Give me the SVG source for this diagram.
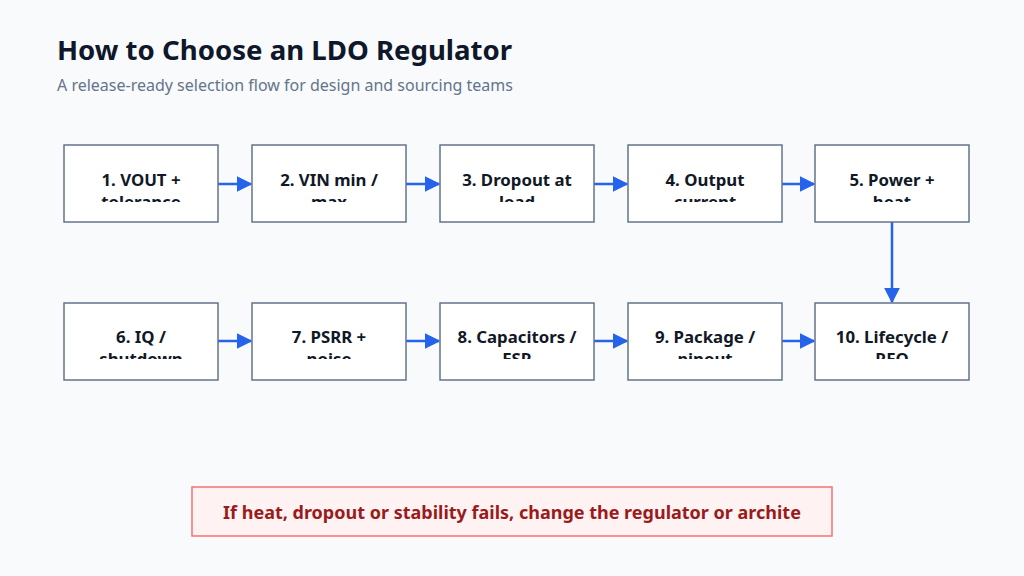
<svg xmlns="http://www.w3.org/2000/svg" width="1024" height="576" viewBox="0 0 1024 576">
<style>
.title{font-family:"Noto Sans","Open Sans",sans-serif;font-weight:700;font-size:27.6px;fill:#0f172a}
.sub{font-family:"Noto Sans","Open Sans",sans-serif;font-size:16px;fill:#64748b}
.box{fill:#ffffff;stroke:#64748b;stroke-width:1.5}
.lbl{font-family:"Noto Sans","Open Sans",sans-serif;font-weight:700;font-size:16.8px;fill:#111827;text-anchor:middle}
.edge{stroke:#2563eb;stroke-width:2.5;fill:none}
.note{fill:#fef2f2;stroke:#f87171;stroke-width:1.5}
.notet{font-family:"Noto Sans","Open Sans",sans-serif;font-weight:700;font-size:18px;fill:#991b1b;text-anchor:middle}
</style>
<defs>
<marker id="ah" viewBox="0 0 10 10" refX="9" refY="5" markerWidth="6.4" markerHeight="6.4" markerUnits="strokeWidth" orient="auto">
<path d="M0,0 L10,5 L0,10 z" fill="#2563eb"/>
</marker>
<clipPath id="c1"><rect x="60" y="140" width="920" height="62"/></clipPath>
<clipPath id="c2"><rect x="60" y="298" width="920" height="61"/></clipPath>
</defs>
<rect width="1024" height="576" fill="#f8fafc"/>
<text class="title" x="57" y="60">How to Choose an LDO Regulator</text>
<text class="sub" x="57" y="91">A release-ready selection flow for design and sourcing teams</text>
<g id="connectors">
<line class="edge" x1="218" y1="184" x2="251" y2="184" marker-end="url(#ah)"/>
<line class="edge" x1="406" y1="184" x2="439" y2="184" marker-end="url(#ah)"/>
<line class="edge" x1="594" y1="184" x2="627" y2="184" marker-end="url(#ah)"/>
<line class="edge" x1="782" y1="184" x2="814" y2="184" marker-end="url(#ah)"/>
<line class="edge" x1="892" y1="222" x2="892" y2="302" marker-end="url(#ah)"/>
<line class="edge" x1="218" y1="341" x2="251" y2="341" marker-end="url(#ah)"/>
<line class="edge" x1="406" y1="341" x2="439" y2="341" marker-end="url(#ah)"/>
<line class="edge" x1="594" y1="341" x2="627" y2="341" marker-end="url(#ah)"/>
<line class="edge" x1="782" y1="341" x2="814" y2="341" marker-end="url(#ah)"/>
</g>
<g id="n1"><rect class="box" x="64" y="145" width="154" height="77"/><g clip-path="url(#c1)"><text class="lbl" x="141" y="186">1. VOUT +</text><text class="lbl" x="141" y="208">tolerance</text></g></g>
<g id="n2"><rect class="box" x="252" y="145" width="154" height="77"/><g clip-path="url(#c1)"><text class="lbl" x="329" y="186">2. VIN min /</text><text class="lbl" x="329" y="208">max</text></g></g>
<g id="n3"><rect class="box" x="440" y="145" width="154" height="77"/><g clip-path="url(#c1)"><text class="lbl" x="517" y="186">3. Dropout at</text><text class="lbl" x="517" y="208">load</text></g></g>
<g id="n4"><rect class="box" x="628" y="145" width="154" height="77"/><g clip-path="url(#c1)"><text class="lbl" x="705" y="186">4. Output</text><text class="lbl" x="705" y="208">current</text></g></g>
<g id="n5"><rect class="box" x="815" y="145" width="154" height="77"/><g clip-path="url(#c1)"><text class="lbl" x="892" y="186">5. Power +</text><text class="lbl" x="892" y="208">heat</text></g></g>
<g id="n6"><rect class="box" x="64" y="303" width="154" height="77"/><g clip-path="url(#c2)"><text class="lbl" x="141" y="343">6. IQ /</text><text class="lbl" x="141" y="365">shutdown</text></g></g>
<g id="n7"><rect class="box" x="252" y="303" width="154" height="77"/><g clip-path="url(#c2)"><text class="lbl" x="329" y="343">7. PSRR +</text><text class="lbl" x="329" y="365">noise</text></g></g>
<g id="n8"><rect class="box" x="440" y="303" width="154" height="77"/><g clip-path="url(#c2)"><text class="lbl" x="517" y="343">8. Capacitors /</text><text class="lbl" x="517" y="365">ESR</text></g></g>
<g id="n9"><rect class="box" x="628" y="303" width="154" height="77"/><g clip-path="url(#c2)"><text class="lbl" x="705" y="343">9. Package /</text><text class="lbl" x="705" y="365">pinout</text></g></g>
<g id="n10"><rect class="box" x="815" y="303" width="154" height="77"/><g clip-path="url(#c2)"><text class="lbl" x="892" y="343">10. Lifecycle /</text><text class="lbl" x="892" y="365">RFQ</text></g></g>
<g id="note"><rect class="note" x="192" y="487" width="640" height="49"/><text class="notet" x="512" y="519">If heat, dropout or stability fails, change the regulator or archite</text></g>
</svg>
